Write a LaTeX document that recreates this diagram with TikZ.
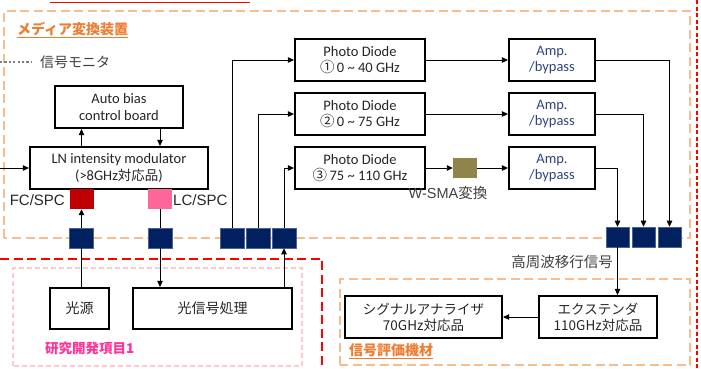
\documentclass[tikz,border=0pt]{standalone}
\usepackage{fontspec}
\setmainfont{Carlito}
\newfontfamily\jp{Noto Sans CJK JP}
\newfontfamily\arial{Liberation Sans}
\usetikzlibrary{arrows.meta}
\definecolor{dorange}{RGB}{246,190,142}
\definecolor{torange}{RGB}{237,125,49}
\definecolor{navyb}{RGB}{0,32,96}
\definecolor{fcred}{RGB}{192,0,0}
\definecolor{lcpink}{RGB}{255,102,153}
\definecolor{olivew}{RGB}{143,133,75}
\definecolor{ampblue}{RGB}{47,69,128}
\definecolor{lpink}{RGB}{255,199,206}
\definecolor{magpink}{RGB}{255,51,153}
\definecolor{gtext}{RGB}{64,64,64}
\tikzset{
  box/.style={draw=black, line width=2.2pt, fill=white, align=center, inner sep=1pt,
    text=black!85, font=\fontsize{14.5}{16.5}\selectfont},
  sq/.style={draw=none, minimum width=24pt, minimum height=20pt, inner sep=0pt},
  navysq/.style={sq, fill=navyb, draw=navyb!70!white, line width=0.6pt},
  arr/.style={line width=0.9pt, -{Triangle[length=6pt,width=5.5pt]}},
  ln/.style={line width=0.9pt},
  odash/.style={draw=dorange, line width=2.4pt, dash pattern=on 9pt off 4.5pt},
  lbl/.style={inner sep=0pt},
}
\begin{document}
\begin{tikzpicture}[x=1pt,y=-1pt]
\useasboundingbox (0,0) rectangle (701,368);
% frames
\draw[red, line width=1pt] (50,2.5) -- (250,2.5);
\draw[odash] (4,238) -- (4,11) -- (690,11) -- (690,238) -- (4,238);
\draw[odash] (340,365) -- (340,279) -- (690,279) -- (690,365) -- cycle;
\draw[red, line width=1.4pt, dash pattern=on 4pt off 2.5pt] (697,0) -- (697,368);
\draw[red, line width=2.4pt, dash pattern=on 9pt off 4.5pt] (0,259) -- (322,259) -- (322,370);
\draw[lpink, line width=1.5pt, dash pattern=on 5pt off 3pt] (13,366) -- (13,268) -- (302,268) -- (302,366) -- cycle;

% titles
\node[lbl, anchor=west, text=torange, font=\jp\bfseries\fontsize{14}{16}\selectfont] (ttl1) at (17,30) {\underline{メディア変換装置}};
\node[lbl, anchor=west, text=torange, font=\jp\bfseries\fontsize{14}{16}\selectfont] (ttl2) at (349,351) {\underline{信号評価機材}};
\node[lbl, anchor=west, text=magpink, font=\jp\bfseries\fontsize{13.5}{16}\selectfont] (ttl3) at (45,348) {研究開発項目1};
\coordinate (mon0) at (0,62);
\node[lbl, anchor=west, text=gtext, font=\jp\fontsize{14}{16}\selectfont] (mon) at (40,62) {信号モニタ};
\draw[gray, line width=2.2pt, dash pattern=on 2.2pt off 2.2pt] (mon0) -- ([xshift=-9pt]mon.west);

% boxes
\node[box, minimum width=128pt, minimum height=42pt] (ab) at (119,107) {Auto bias\\control board};
\node[box, minimum width=178pt, minimum height=42pt] (lnm) at (119,168) {LN intensity modulator\\({>}8GHz{\jp\fontsize{13.5}{16}\selectfont 対応品})};
\node[sq, fill=fcred] (fc) at (81.5,199) {};
\node[sq, fill=lcpink] (lc) at (160,199) {};
\node[lbl, anchor=east, font=\arial\fontsize{15}{17}\selectfont, text=gtext!60!black] (fcl) at (65,200) {FC/SPC};
\node[lbl, anchor=west, font=\arial\fontsize{15}{17}\selectfont, text=gtext!60!black] (lcl) at (173,200) {LC/SPC};
\node[navysq] (na) at (81.5,238) {};
\node[navysq] (nb) at (160,238) {};
\node[navysq] (nc1) at (232,238) {};
\node[navysq] (nc2) at (258,238) {};
\node[navysq] (nc3) at (284,238) {};

\node[box, minimum width=130pt, minimum height=42pt] (pd1) at (360,60) {Photo Diode\\{\jp ①}\,0 \textasciitilde\ 40 GHz};
\node[box, minimum width=130pt, minimum height=42pt] (pd2) at (360,114) {Photo Diode\\{\jp ②}\,0 \textasciitilde\ 75 GHz};
\node[box, minimum width=130pt, minimum height=42pt] (pd3) at (360,168) {Photo Diode\\{\jp ③}\,75 \textasciitilde\ 110 GHz};
\node[box, minimum width=86pt, minimum height=42pt, text=ampblue] (a1) at (552,60) {Amp.\\/bypass};
\node[box, minimum width=86pt, minimum height=42pt, text=ampblue] (a2) at (552,114) {Amp.\\/bypass};
\node[box, minimum width=86pt, minimum height=42pt, text=ampblue] (a3) at (552,168) {Amp.\\/bypass};
\node[sq, fill=olivew] (ws) at (465,168) {};
\node[lbl, font=\fontsize{14.5}{16}\selectfont, text=gtext] (wsl) at (448,193) {{\arial W-SMA}{\jp 変換}};

\node[navysq, minimum width=23pt] (nd1) at (617.5,237) {};
\node[navysq, minimum width=23pt] (nd2) at (643.5,237) {};
\node[navysq, minimum width=23pt] (nd3) at (669.5,237) {};
\node[lbl, anchor=east, font=\jp\fontsize{14.5}{16}\selectfont, text=gtext] (hf) at (613,262) {高周波移行信号};

\node[box, minimum width=118pt, minimum height=42pt, font=\jp\fontsize{13.5}{16}\selectfont] (ext) at (598,317) {エクステンダ\\110GHz対応品};
\node[box, minimum width=157pt, minimum height=42pt, font=\jp\fontsize{13.5}{16}\selectfont] (ana) at (423.5,317) {シグナルアナライザ\\70GHz対応品};

\node[box, minimum width=59pt, minimum height=41pt, font=\jp\fontsize{14}{16}\selectfont] (src) at (79.5,308.5) {光源};
\node[box, minimum width=159pt, minimum height=41pt, font=\jp\fontsize{14}{16}\selectfont] (proc) at (212.5,308.5) {光信号処理};

% connectors
\coordinate (in0) at (0,168);
\draw[arr] (in0) -- (lnm.west);
\draw[arr] (lnm.north -| na) -- (ab.south -| na);
\draw[arr] (ab.south -| nb) -- (lnm.north -| nb);
\draw[arr] (na.north) -- (fc.south);
\draw[ln] (lc.south) -- (nb.north);
\draw[ln] (src.north -| na) -- (na.south);
\draw[arr] (nb.south) -- (proc.north -| nb);
\draw[arr] (proc.north -| nc3) -- (nc3.south);
\draw[arr] (nc1.north) |- (pd1.west);
\draw[arr] (nc2.north) |- (pd2.west);
\draw[arr] (nc3.north) |- (pd3.west);
\draw[arr] (pd1.east) -- (a1.west);
\draw[arr] (pd2.east) -- (a2.west);
\draw[arr] (pd3.east) -- (ws.west);
\draw[arr] (ws.east) -- (a3.west);
\draw[arr] (a1.east) -| (nd3.north);
\draw[arr] (a2.east) -| (nd2.north);
\draw[arr] (a3.east) -| (nd1.north);
\draw[arr] (nd1.south) -- (ext.north -| nd1);
\draw[arr] (ext.west) -- (ana.east);
\end{tikzpicture}
\end{document}
